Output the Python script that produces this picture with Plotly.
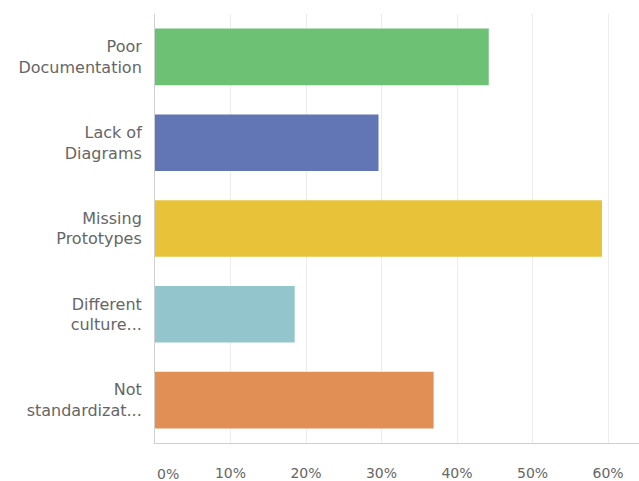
import plotly.graph_objects as go

categories = ["Poor<br>Documentation", "Lack of<br>Diagrams", "Missing<br>Prototypes",
              "Different<br>culture...", "Not<br>standardizat..."]
values = [44.2, 29.6, 59.2, 18.5, 36.9]
colors = ["#6cc174", "#6275b5", "#e8c33a", "#92c5cc", "#e28f56"]
tick_vals = [10, 20, 30, 40, 50, 60]
tick_text = ["10%", "20%", "30%", "40%", "50%", "60%"]

font_family = "DejaVu Sans"
text_color = "#666666"

fig = go.Figure(go.Bar(
    x=values, y=categories, orientation="h",
    marker=dict(color=colors, line=dict(width=0)),
    hoverinfo="skip",
))

fig.update_layout(
    width=639, height=481,
    margin=dict(l=155, r=0, t=14, b=34),
    paper_bgcolor="white", plot_bgcolor="white",
    bargap=0.34,
    showlegend=False,
    font=dict(family=font_family, size=14, color=text_color),
)
fig.update_xaxes(
    range=[0, 64.1],
    tickvals=tick_vals, ticktext=tick_text,
    showgrid=True, gridcolor="#ececec", gridwidth=1,
    zeroline=False,
    showline=True, linecolor="#cfcfcf", linewidth=1,
    ticks="", ticklabelstandoff=17,
    tickfont=dict(family=font_family, size=14, color=text_color),
    fixedrange=True,
)
fig.update_yaxes(
    autorange="reversed",
    showgrid=False, zeroline=False,
    showline=True, linecolor="#cfcfcf", linewidth=1,
    ticks="", ticklabelstandoff=9,
    tickfont=dict(family=font_family, size=16, color=text_color),
    fixedrange=True,
)
fig.add_annotation(
    x=0, y=0, xref="x", yref="paper",
    text="0%", showarrow=False,
    xanchor="left", yanchor="top", yshift=-21,
    font=dict(family=font_family, size=14, color=text_color),
)

fig.write_html("out.html", config={"displayModeBar": False})
